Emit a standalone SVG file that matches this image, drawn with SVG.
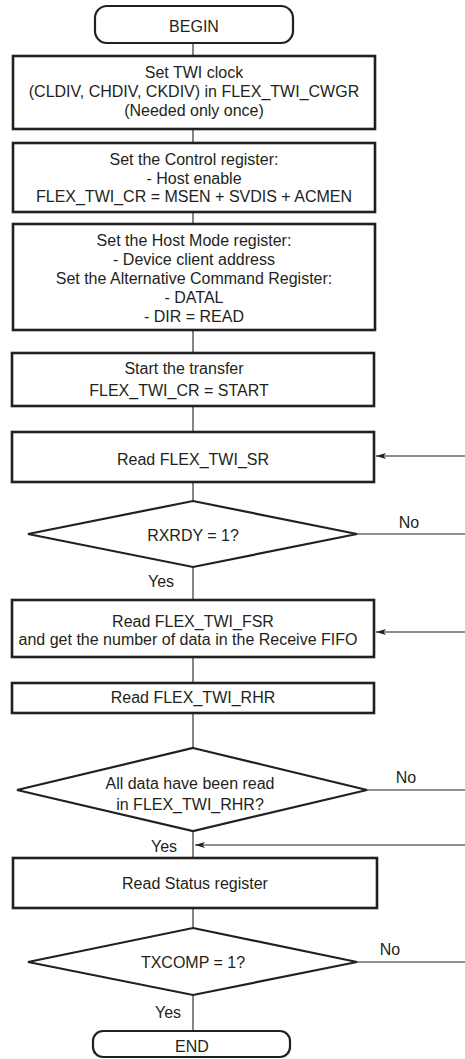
<svg xmlns="http://www.w3.org/2000/svg" width="465" height="1059" viewBox="0 0 465 1059">
<defs>
<style>
.box{fill:#fff;stroke:#231f20;stroke-width:2.6}
.term{fill:#fff;stroke:#231f20;stroke-width:2.2}
.dia{fill:#fff;stroke:#231f20;stroke-width:2.2}
.ln{fill:none;stroke:#231f20;stroke-width:1.1}
text{font-family:"Liberation Sans",Arial,sans-serif;font-size:16px;fill:#231f20;text-anchor:middle}
</style>
<marker id="arr" viewBox="0 0 10 6" refX="10" refY="3" markerWidth="10" markerHeight="6" markerUnits="userSpaceOnUse" orient="auto">
<path d="M0,0 L10,3 L0,6 L2.5,3 Z" fill="#231f20"/>
</marker>
</defs>
<rect width="465" height="1059" fill="#fff"/>
<g id="connectors">
<line class="ln" x1="193" y1="43" x2="193" y2="56"/>
<line class="ln" x1="193" y1="129" x2="193" y2="143"/>
<line class="ln" x1="193" y1="212" x2="193" y2="224"/>
<line class="ln" x1="193" y1="330" x2="193" y2="353"/>
<line class="ln" x1="193" y1="406" x2="193" y2="432"/>
<line class="ln" x1="193" y1="482" x2="193" y2="501"/>
<line class="ln" x1="193" y1="567" x2="193" y2="600"/>
<line class="ln" x1="193" y1="657" x2="193" y2="683"/>
<line class="ln" x1="193" y1="713" x2="193" y2="748"/>
<line class="ln" x1="193" y1="831" x2="193" y2="858"/>
<line class="ln" x1="193" y1="908" x2="193" y2="928"/>
<line class="ln" x1="193" y1="995" x2="193" y2="1031"/>
<line class="ln" x1="357" y1="534" x2="465" y2="534"/>
<line class="ln" x1="465" y1="456" x2="376" y2="456" marker-end="url(#arr)"/>
<line class="ln" x1="465" y1="632" x2="376" y2="632" marker-end="url(#arr)"/>
<line class="ln" x1="367" y1="790" x2="465" y2="790"/>
<line class="ln" x1="465" y1="845" x2="195" y2="845" marker-end="url(#arr)"/>
<line class="ln" x1="357" y1="962" x2="465" y2="962"/>
<text x="409" y="528">No</text>
<text x="161" y="587">Yes</text>
<text x="406" y="783">No</text>
<text x="164" y="852">Yes</text>
<text x="390" y="955">No</text>
<text x="168" y="1018">Yes</text>
</g>
<g id="begin">
<rect class="term" x="95" y="6" width="198" height="37" rx="12" ry="12"/>
<text x="194" y="32">BEGIN</text>
</g>
<g id="set-clock">
<rect class="box" x="13" y="56" width="362" height="73"/>
<text x="194" y="78">Set TWI clock</text>
<text x="194" y="97">(CLDIV, CHDIV, CKDIV) in FLEX_TWI_CWGR</text>
<text x="194" y="116">(Needed only once)</text>
</g>
<g id="set-control">
<rect class="box" x="13" y="143" width="362" height="69"/>
<text x="194" y="165">Set the Control register:</text>
<text x="194" y="184">- Host enable</text>
<text x="194" y="202">FLEX_TWI_CR = MSEN + SVDIS + ACMEN</text>
</g>
<g id="set-mode">
<rect class="box" x="13" y="224" width="362" height="106"/>
<text x="194" y="246">Set the Host Mode register:</text>
<text x="194" y="265">- Device client address</text>
<text x="194" y="284">Set the Alternative Command Register:</text>
<text x="194" y="303">- DATAL</text>
<text x="194" y="322">- DIR = READ</text>
</g>
<g id="start">
<rect class="box" x="12" y="353" width="362" height="53"/>
<text x="184" y="374">Start the transfer</text>
<text x="179" y="396">FLEX_TWI_CR = START</text>
</g>
<g id="read-sr">
<rect class="box" x="12" y="432" width="362" height="50"/>
<text x="193" y="465">Read FLEX_TWI_SR</text>
</g>
<g id="rxrdy">
<polygon class="dia" points="193,501 357,534 193,567 28,534"/>
<text x="193" y="541">RXRDY = 1?</text>
</g>
<g id="read-fsr">
<rect class="box" x="12" y="600" width="362" height="57"/>
<text x="193" y="627">Read FLEX_TWI_FSR</text>
<text x="188" y="645">and get the number of data in the Receive FIFO</text>
</g>
<g id="read-rhr">
<rect class="box" x="12" y="683" width="362" height="30"/>
<text x="193" y="703">Read FLEX_TWI_RHR</text>
</g>
<g id="all-read">
<polygon class="dia" points="193,748 367,790 193,831 17,790"/>
<text x="190" y="789">All data have been read</text>
<text x="190" y="810">in FLEX_TWI_RHR?</text>
</g>
<g id="read-status">
<rect class="box" x="13" y="858" width="364" height="50"/>
<text x="195" y="889">Read Status register</text>
</g>
<g id="txcomp">
<polygon class="dia" points="193,928 357,962 193,995 28,962"/>
<text x="193" y="968">TXCOMP = 1?</text>
</g>
<g id="end">
<rect class="term" x="93" y="1031" width="197" height="26" rx="10" ry="10"/>
<text x="192" y="1052">END</text>
</g>
</svg>
